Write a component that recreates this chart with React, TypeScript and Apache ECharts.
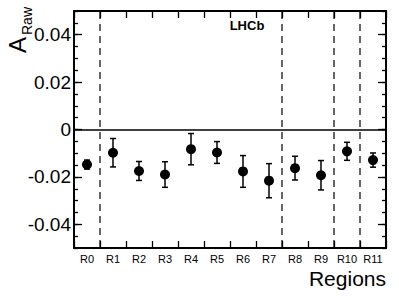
import React, { useEffect, useRef } from "react";
import * as echarts from "echarts";

const categories = ["R0", "R1", "R2", "R3", "R4", "R5", "R6", "R7", "R8", "R9", "R10", "R11"];
const values = [-0.0148, -0.0098, -0.0175, -0.019, -0.0083, -0.0097, -0.0177, -0.0216, -0.0163, -0.0193, -0.0092, -0.0129];
const errors = [0.0019, 0.006, 0.004, 0.0054, 0.0066, 0.0046, 0.0067, 0.0072, 0.005, 0.0062, 0.0038, 0.003];
const dividerAfter = [0, 7, 9, 10];
const yMajorTicks = [-0.04, -0.02, 0, 0.02, 0.04];

const FONT = "'Liberation Sans', Arial, Helvetica, sans-serif";

export default function App() {
  const ref = useRef<HTMLDivElement>(null);
  useEffect(() => {
    if (!ref.current) return;
    const chart = echarts.init(ref.current, null, { renderer: "svg" });
    const fmt = (v: number) => (Math.abs(v) < 1e-9 ? "0" : v.toFixed(2));
    const tickStyle = { color: "#000", width: 1.3, opacity: 1 };
    const minorAxis = (position: string) => ({
      type: "value",
      position,
      min: -0.05,
      max: 0.05,
      interval: 0.005,
      axisLine: { show: true, lineStyle: { color: "#000", width: 2 } },
      axisTick: { show: true, inside: true, length: 4, lineStyle: tickStyle },
      axisLabel: { show: false },
      splitLine: { show: false },
    });
    const majorAxis = (position: string, labels: boolean) => ({
      type: "value",
      position,
      min: -0.05,
      max: 0.05,
      axisLine: { show: false },
      axisTick: { show: true, inside: true, length: 8, customValues: yMajorTicks, lineStyle: tickStyle },
      axisLabel: {
        show: labels,
        customValues: yMajorTicks,
        formatter: fmt,
        fontSize: 19,
        color: "#000",
        fontFamily: FONT,
        margin: 3,
      },
      splitLine: { show: false },
    });
    const catAxis = (position: string, labels: boolean) => ({
      type: "category",
      data: categories,
      position,
      boundaryGap: true,
      axisLine: { show: true, onZero: false, lineStyle: { color: "#000", width: 2 } },
      axisTick: { show: true, inside: true, length: 7, interval: 0, alignWithLabel: false, lineStyle: tickStyle },
      axisLabel: { show: labels, interval: 0, fontSize: 11, color: "#000", fontFamily: FONT, margin: 5 },
      splitLine: { show: false },
    });
    chart.setOption({
      animation: false,
      backgroundColor: "#fff",
      grid: { left: 74, right: 13, top: 11, bottom: 49, containLabel: false },
      xAxis: [catAxis("bottom", true), catAxis("top", false)],
      yAxis: [minorAxis("left"), majorAxis("left", true), minorAxis("right"), majorAxis("right", false)],
      series: [
        {
          type: "custom",
          xAxisIndex: 0,
          yAxisIndex: 0,
          data: dividerAfter.map((i) => [i, 0]),
          encode: { x: 0, y: 1 },
          renderItem: (params: any, api: any) => {
            const i = api.value(0);
            const x = api.coord([i, 0])[0] + api.size([1, 0])[0] / 2;
            const cs = params.coordSys;
            return {
              type: "line",
              shape: { x1: x, y1: cs.y + 1, x2: x, y2: cs.y + cs.height - 1 },
              style: { stroke: "#000", lineWidth: 1.2, lineDash: [7, 5] },
            };
          },
          silent: true,
          z: 1,
        },
        {
          type: "custom",
          xAxisIndex: 0,
          yAxisIndex: 0,
          data: values.map((v, i) => [i, v - errors[i], v + errors[i]]),
          encode: { x: 0, y: [1, 2] },
          renderItem: (params: any, api: any) => {
            const i = api.value(0);
            const lo = api.coord([i, api.value(1)]);
            const hi = api.coord([i, api.value(2)]);
            const style = { stroke: "#000", lineWidth: 1.5 };
            const cap = 3;
            return {
              type: "group",
              children: [
                { type: "line", shape: { x1: lo[0], y1: lo[1], x2: hi[0], y2: hi[1] }, style },
                { type: "line", shape: { x1: lo[0] - cap, y1: lo[1], x2: lo[0] + cap, y2: lo[1] }, style },
                { type: "line", shape: { x1: hi[0] - cap, y1: hi[1], x2: hi[0] + cap, y2: hi[1] }, style },
              ],
            };
          },
          silent: true,
          z: 2,
        },
        {
          type: "scatter",
          xAxisIndex: 0,
          yAxisIndex: 0,
          data: values.map((v, i) => [i, v]),
          symbol: "circle",
          symbolSize: 10,
          itemStyle: { color: "#000", opacity: 1 },
          z: 3,
          markLine: {
            silent: true,
            symbol: "none",
            label: { show: false },
            lineStyle: { color: "#000", width: 1.5, type: "solid", opacity: 1 },
            data: [{ yAxis: 0 }],
          },
        },
      ],
      graphic: [
        {
          type: "text",
          x: 247,
          y: 25,
          style: {
            text: "LHCb",
            fontSize: 13,
            fontWeight: "bold",
            fontFamily: FONT,
            fill: "#000",
            textAlign: "center",
            textVerticalAlign: "middle",
          },
        },
        {
          type: "text",
          x: 386,
          y: 278,
          style: {
            text: "Regions",
            fontSize: 21,
            fontFamily: FONT,
            fill: "#000",
            textAlign: "right",
            textVerticalAlign: "middle",
          },
        },
        {
          type: "text",
          x: 17,
          y: 53,
          rotation: Math.PI / 2,
          style: {
            text: "A",
            fontSize: 24,
            fontFamily: FONT,
            fill: "#000",
            textAlign: "left",
            textVerticalAlign: "middle",
          },
        },
        {
          type: "text",
          x: 27,
          y: 35,
          rotation: Math.PI / 2,
          style: {
            text: "Raw",
            fontSize: 14,
            fontFamily: FONT,
            fill: "#000",
            textAlign: "left",
            textVerticalAlign: "middle",
          },
        },
      ],
    });
    return () => chart.dispose();
  }, []);
  return <div ref={ref} style={{ position: "fixed", left: 0, top: 0, width: 399, height: 297 }} />;
}
